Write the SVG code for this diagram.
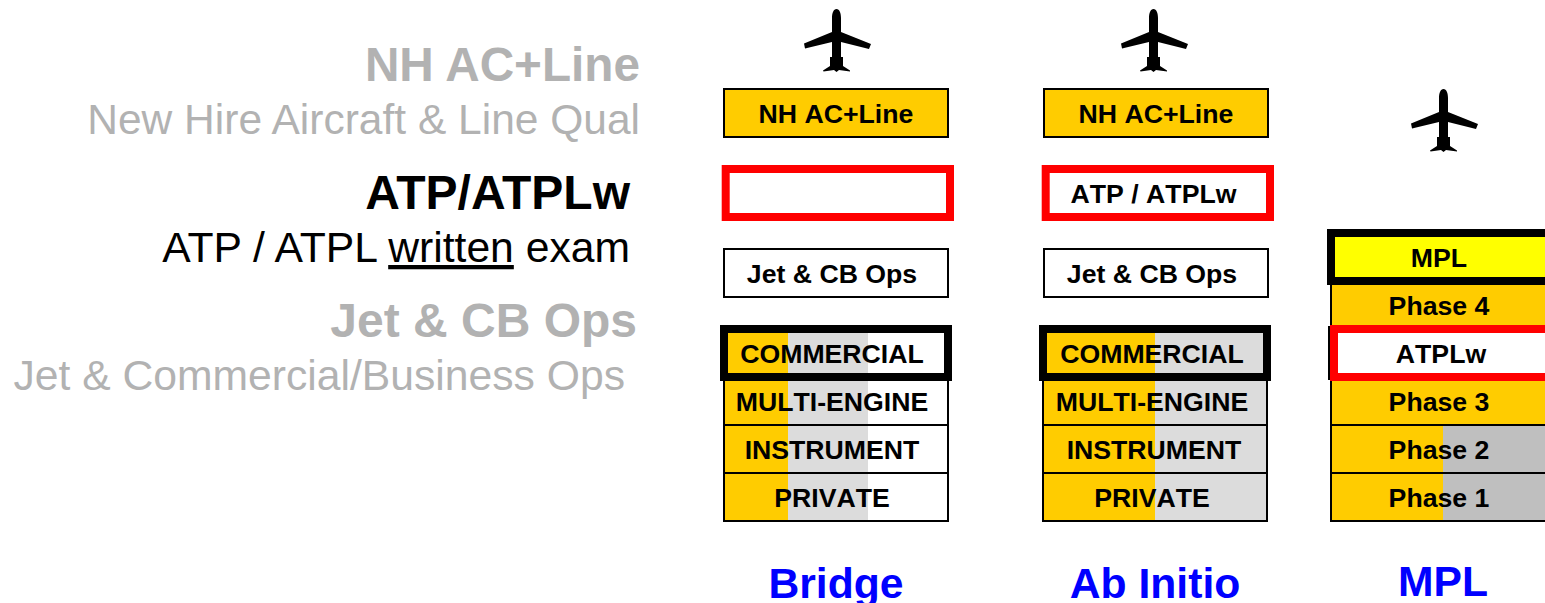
<svg xmlns="http://www.w3.org/2000/svg" width="1545" height="603" viewBox="0 0 1545 603">
<style>
text{font-family:"Liberation Sans",Arial,sans-serif;font-kerning:none}
.b{font-weight:bold;font-size:26.67px;fill:#000;text-anchor:middle}
.t{font-weight:bold;font-size:42.67px;fill:#0000ff;text-anchor:middle}
.h{font-weight:bold;font-size:48px;text-anchor:end;font-kerning:normal}
.s{font-size:42.67px;text-anchor:end;font-kerning:normal}
.g{fill:#b2b2b2}
.k{fill:#000}
.box{stroke:#000;stroke-width:2}
.red{fill:#fff;stroke:#f00;stroke-width:8}
.blk{fill:none;stroke:#000;stroke-width:8}
.o{fill:#ffcc00}
.l{fill:#dcdcdc}
.m{fill:#bfbfbf}
.rule{fill:none;stroke:#000;stroke-width:2}
</style>
<defs>
<path id="plane" fill="#000" d="M0 0C-3 0-4.500 4-4.500 9V23L-32.500 34.500-31.500 39.500-4.500 33V48H-6.500V57L-13.500 61.500-13 62.500-2.500 61 0 63 2.500 61 13.500 62.500 13.500 61.500 6.500 57V48H4.500V33L32.500 40 34.500 35 4.500 23V9C4.500 4 3 0 0 0Z"/>
</defs>
<g id="legend">
<text class="h g" x="640" y="81" style="font-size:47.7px">NH AC+Line</text>
<text class="s g" x="640" y="134" style="font-size:42.5px">New Hire Aircraft &amp; Line Qual</text>
<text class="h k" x="630" y="209">ATP/ATPLw</text>
<text class="s k" x="630" y="262">ATP / ATPL <tspan text-decoration="underline">written</tspan> exam</text>
<text class="h g" x="637" y="337">Jet &amp; CB Ops</text>
<text class="s g" x="625" y="390">Jet &amp; Commercial/Business Ops</text>
</g>
<g id="bridge">
<use href="#plane" x="836.500" y="9"/>
<rect class="o box" x="724" y="89" width="224" height="48"/>
<text class="b" x="836" y="123">NH AC+Line</text>
<rect class="red" x="725.700" y="169" width="224.300" height="48"/>
<rect class="box" x="724" y="249" width="224" height="48" fill="#fff"/>
<text class="b" x="832" y="283">Jet &amp; CB Ops</text>
<rect class="o" x="724" y="329" width="64" height="192"/>
<rect class="l" x="788" y="329" width="80" height="192"/>
<rect class="rule" x="724" y="377" width="224" height="144"/>
<path class="rule" d="M724 425H948M724 473H948"/>
<rect class="blk" x="724" y="329" width="224" height="48"/>
<text class="b" x="832" y="363">COMMERCIAL</text>
<text class="b" x="832" y="411">MULTI-ENGINE</text>
<text class="b" x="832" y="459">INSTRUMENT</text>
<text class="b" x="832" y="507">PRIVATE</text>
<text class="t" x="836" y="598">Bridge</text>
</g>
<g id="abinitio">
<use href="#plane" x="1153.500" y="9"/>
<rect class="o box" x="1044" y="89" width="224" height="48"/>
<text class="b" x="1156" y="123">NH AC+Line</text>
<rect class="red" x="1045.700" y="169" width="224.300" height="48"/>
<text class="b" x="1153.500" y="203">ATP / ATPLw</text>
<rect class="box" x="1044" y="249" width="224" height="48" fill="#fff"/>
<text class="b" x="1152" y="283">Jet &amp; CB Ops</text>
<rect class="o" x="1043" y="329" width="112" height="192"/>
<rect class="l" x="1155" y="329" width="112" height="192"/>
<rect class="rule" x="1043" y="377" width="224" height="144"/>
<path class="rule" d="M1043 425H1267M1043 473H1267"/>
<rect class="blk" x="1043" y="329" width="224" height="48"/>
<text class="b" x="1152" y="363">COMMERCIAL</text>
<text class="b" x="1152" y="411">MULTI-ENGINE</text>
<text class="b" x="1154" y="459">INSTRUMENT</text>
<text class="b" x="1152" y="507">PRIVATE</text>
<text class="t" x="1155" y="597.500">Ab Initio</text>
</g>
<g id="mpl">
<use href="#plane" x="1443.500" y="89"/>
<rect x="1331" y="281" width="214" height="240" class="o"/>
<rect x="1443" y="425" width="102" height="96" class="m"/>
<path class="rule" d="M1331 281V521H1545M1331 425H1545M1331 473H1545"/>
<rect x="1331" y="233" width="224" height="48" fill="#ffff00" stroke="#000" stroke-width="8"/>
<rect x="1328" y="326" width="2" height="54" fill="#000"/>
<rect class="red" x="1334" y="329" width="224" height="48"/>
<text class="b" x="1439" y="267">MPL</text>
<text class="b" x="1439" y="315">Phase 4</text>
<text class="b" x="1441" y="363">ATPLw</text>
<text class="b" x="1439" y="411">Phase 3</text>
<text class="b" x="1439" y="459">Phase 2</text>
<text class="b" x="1439" y="507">Phase 1</text>
<text class="t" x="1443" y="596">MPL</text>
</g>
</svg>
